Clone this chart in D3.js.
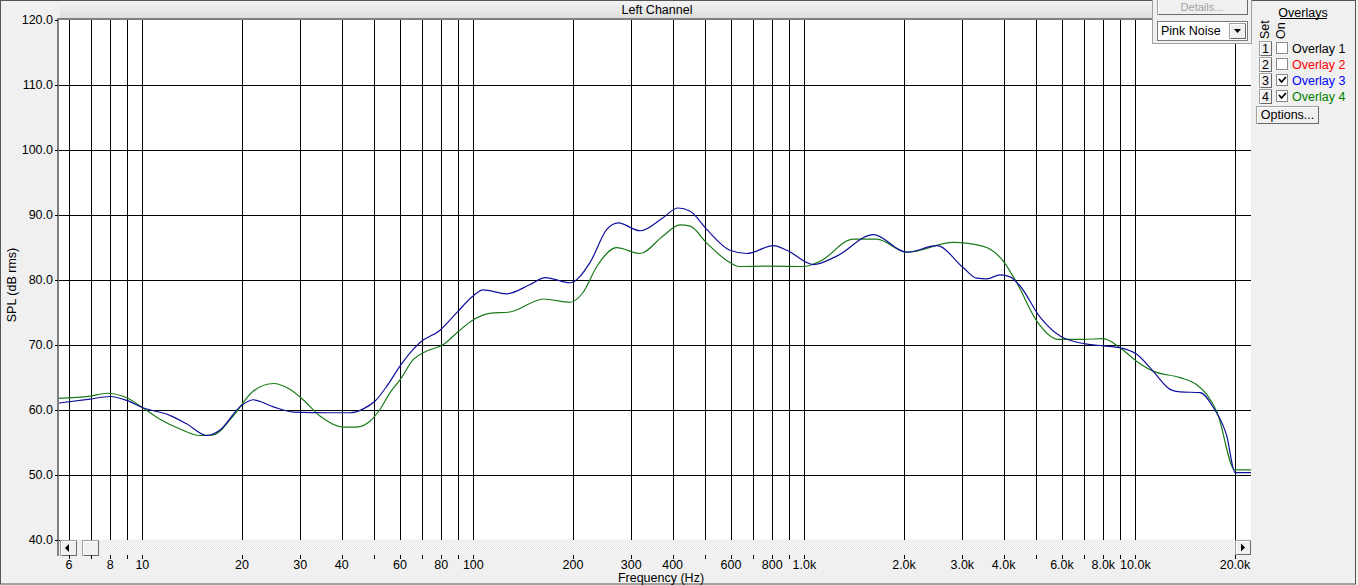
<!DOCTYPE html>
<html><head><meta charset="utf-8">
<script src="https://cdn.jsdelivr.net/npm/d3@7"></script>
<style>
html,body{margin:0;padding:0;background:#f0f0f0;}
svg{display:block;font-family:"Liberation Sans",Arial,sans-serif;}
</style></head>
<body>
<svg id="chart" width="1358" height="585"></svg>
<script>
// ---------- data ----------
const blueFreq = [5.6,6.95,7.99,8.97,10,12.1,13.6,15.65,17.2,19.7,21.6,24.9,28.6,36.9,42.4,46.5,50.5,54.8,60.1,64.4,69,79.3,89.1,100,107,126,148,165,196,225,253,274,319,374,415,452,507,596,670,806,885,1065,1253,1616,2039,2512,3023,3318,3557,3902,4182,4484,5153,5923,7047,7988,8991,10100,11310,12730,13650,15690,17200,18890,20010,22350];
const blueDb   = [61.0,61.6,62.0,61.4,60.3,59.1,57.8,56.0,56.9,60.4,61.5,60.4,59.6,59.5,59.5,60.1,61.3,63.6,66.7,68.7,70.3,72.2,74.9,77.5,78.4,77.8,79.2,80.3,79.5,82.6,87.7,88.7,87.5,89.5,91.0,90.5,87.7,84.5,84.0,85.2,84.5,82.3,83.6,86.9,84.2,85.2,81.8,80.2,80.1,80.7,80.4,79.0,74.2,71.3,70.1,69.8,69.5,68.5,65.9,63.1,62.7,62.6,60.3,55.9,50.3,50.3];
const greenFreq = [5.6,6.95,7.8,8.97,10,11.3,13.0,14.94,16.4,18.8,21.6,24.9,27.9,30.6,34.4,40.5,44.4,48.7,52.2,56,60.1,65.9,72.3,81.2,90.1,100,112,129,163,196,214.5,236,271,319,374,420,452,507,596,633,780,993,1115,1406,1655,2039,2820,3474,3993,4382,5037,5843,6950,7988,8991,10100,11310,13650,15330,16440,17620,20010,22350];
const greenDb   = [61.7,62.05,62.5,61.8,60.3,58.5,57.0,56.0,56.1,59.0,62.8,64.0,63.1,61.5,59.0,57.3,57.3,58.2,60.0,62.6,64.6,67.7,69.0,70.0,72.0,73.8,74.8,75.0,77.0,76.5,78.0,82.0,84.9,84.0,86.7,88.4,88.2,85.6,82.6,82.0,82.05,82.0,82.8,86.2,86.2,84.2,85.7,85.1,82.8,79.5,73.6,70.8,70.8,70.9,69.5,67.4,65.9,64.9,63.8,62.3,59.7,50.7,50.7];
const gridFreqs = [6,7,8,9,10,20,30,40,50,60,70,80,90,100,200,300,400,500,600,700,800,900,1000,2000,3000,4000,5000,6000,7000,8000,9000,10000,20000];
const labelFreqs = [6,8,10,20,30,40,60,80,100,200,300,400,600,800,1000,2000,3000,4000,6000,8000,10000,20000];
const labelTexts = ["6","8","10","20","30","40","60","80","100","200","300","400","600","800","1.0k","2.0k","3.0k","4.0k","6.0k","8.0k","10.0k","20.0k"];
const yTicks = [40,50,60,70,80,90,100,110,120];
const overlayNames = ["Overlay 1","Overlay 2","Overlay 3","Overlay 4"];
const overlayColors = ["#000000","#ff0000","#0000ff","#008000"];
const overlayOn = [false,false,true,true];

// ---------- layout ----------
const svg = d3.select("#chart");
const L = 59, R = 1251, T = 19.5, B = 539.5;
const x = d3.scaleLog().domain([5.6, 22350]).range([L, R]);
const y = d3.scaleLinear().domain([40, 120]).range([B, T]);
const px = v => Math.round(v) + 0.5;

// outer frame
svg.append("rect").attr("x",0.5).attr("y",0.5).attr("width",1355).attr("height",583.5)
  .attr("fill","#f0f0f0").attr("stroke","#555");

// header band
const hg = svg.append("defs").append("linearGradient").attr("id","hdr").attr("x1",0).attr("x2",0).attr("y1",0).attr("y2",1);
hg.append("stop").attr("offset","0").attr("stop-color","#f4f4f4");
hg.append("stop").attr("offset","1").attr("stop-color","#dcdcdc");
svg.append("rect").attr("x",60).attr("y",1).attr("width",1092).attr("height",18).attr("fill","url(#hdr)");
svg.append("text").attr("x",657).attr("y",14).attr("text-anchor","middle").attr("font-size",12.5).attr("fill","#000").text("Left Channel");

// plot background
svg.append("rect").attr("x",L).attr("y",T).attr("width",R-L).attr("height",B-T).attr("fill","#fff");

// grid
const grid = svg.append("g").attr("shape-rendering","crispEdges").attr("stroke","#000").attr("stroke-width",1);
grid.selectAll("line.v").data(gridFreqs).join("line")
  .attr("x1",d=>px(x(d))).attr("x2",d=>px(x(d))).attr("y1",T).attr("y2",B);
grid.selectAll("line.h").data(yTicks.filter(d=>d<120)).join("line").attr("class","h")
  .attr("x1",L).attr("x2",R).attr("y1",d=>px(y(d))).attr("y2",d=>px(y(d)));

// plot borders (sunken look)
svg.append("line").attr("x1",L-1).attr("x2",L-1).attr("y1",18).attr("y2",556).attr("stroke","#808080").attr("stroke-width",2);
svg.append("line").attr("x1",L-2).attr("x2",1152).attr("y1",19).attr("y2",19).attr("stroke","#808080").attr("stroke-width",2);

// y ticks and labels
const ya = svg.append("g");
ya.selectAll("line").data(yTicks).join("line").attr("shape-rendering","crispEdges")
  .attr("x1",55).attr("x2",58).attr("y1",d=>px(y(d))).attr("y2",d=>px(y(d))).attr("stroke","#000");
ya.selectAll("text").data(yTicks).join("text")
  .attr("x",53).attr("y",d=>y(d)+4.5).attr("text-anchor","end").attr("font-size",12.5).attr("fill","#000")
  .text(d=>d.toFixed(1));
svg.append("text").attr("transform","translate(16,285) rotate(-90)").attr("text-anchor","middle")
  .attr("font-size",12.5).attr("fill","#000").text("SPL (dB rms)");

// curves
const line = d3.line().x(d=>x(d[0])).y(d=>y(d[1])).curve(d3.curveMonotoneX);
svg.select("defs").append("clipPath").attr("id","pc").append("rect").attr("x",L).attr("y",T).attr("width",R-L).attr("height",B-T);
svg.append("path").datum(greenFreq.map((f,i)=>[f,greenDb[i]])).attr("d",line)
  .attr("fill","none").attr("stroke","#1a7a1a").attr("stroke-width",1.2).attr("clip-path","url(#pc)");
svg.append("path").datum(blueFreq.map((f,i)=>[f,blueDb[i]])).attr("d",line)
  .attr("fill","none").attr("stroke","#10109c").attr("stroke-width",1.2).attr("clip-path","url(#pc)");

// scrollbar
const pat = svg.select("defs").append("pattern").attr("id","dith").attr("width",2).attr("height",2).attr("patternUnits","userSpaceOnUse");
pat.append("rect").attr("width",2).attr("height",2).attr("fill","#fafafa");
pat.append("rect").attr("width",1).attr("height",1).attr("fill","#e6e6e6");
pat.append("rect").attr("x",1).attr("y",1).attr("width",1).attr("height",1).attr("fill","#e6e6e6");
svg.append("rect").attr("x",60).attr("y",540).attr("width",R-60).attr("height",15).attr("fill","url(#dith)");
function button(g, bx, by, bw, bh){
  g.append("rect").attr("x",bx+0.5).attr("y",by+0.5).attr("width",bw-1).attr("height",bh-1).attr("fill","#f0f0f0").attr("stroke","#a0a0a0").attr("shape-rendering","crispEdges");
  g.append("path").attr("d",`M${bx+1.5},${by+bh-1.5}V${by+1.5}H${bx+bw-1.5}`).attr("fill","none").attr("stroke","#fff").attr("shape-rendering","crispEdges");
  g.append("path").attr("d",`M${bx+1.5},${by+bh-0.5}H${bx+bw-0.5}V${by+0.5}`).attr("fill","none").attr("stroke","#696969").attr("shape-rendering","crispEdges");
}
const sb = svg.append("g");
button(sb, 60, 540, 17, 16);
sb.append("path").attr("d","M65,548 L69,544 L69,552 Z").attr("fill","#000");
button(sb, 82, 540, 17, 16);
button(sb, 1235, 540, 16, 15);
sb.append("path").attr("d","M1245,547.5 L1241,543.5 L1241,551.5 Z").attr("fill","#000");

// x ticks and labels
const xa = svg.append("g");
xa.selectAll("line").data(gridFreqs).join("line").attr("shape-rendering","crispEdges")
  .attr("x1",d=>px(x(d))).attr("x2",d=>px(x(d))).attr("y1",555).attr("y2",559).attr("stroke","#000");
xa.selectAll("text").data(labelFreqs).join("text")
  .attr("x",d=>x(d)).attr("y",569).attr("text-anchor","middle").attr("font-size",12.5).attr("fill","#000")
  .text((d,i)=>labelTexts[i]);
svg.append("text").attr("x",661).attr("y",582).attr("text-anchor","middle").attr("font-size",12.5).attr("fill","#000").text("Frequency (Hz)");

// right-top panel (Details / Pink Noise)
const rp = svg.append("g");
rp.append("rect").attr("x",1152.5).attr("y",-1).attr("width",99).attr("height",44).attr("fill","#f0f0f0").attr("stroke","#a0a0a0").attr("shape-rendering","crispEdges");
button(rp, 1157, -6, 91, 21);
rp.append("text").attr("x",1202).attr("y",11).attr("text-anchor","middle").attr("font-size",11).attr("fill","#a0a0a0").text("Details...");
rp.append("rect").attr("x",1157.5).attr("y",21.5).attr("width",90).attr("height",19).attr("fill","#fff").attr("stroke","#7a7a7a").attr("shape-rendering","crispEdges");
rp.append("text").attr("x",1161).attr("y",35).attr("font-size",12.5).attr("fill","#000").text("Pink Noise");
button(rp, 1229, 23, 17, 16);
rp.append("path").attr("d","M1234,29 L1241,29 L1237.5,33 Z").attr("fill","#000");

// overlays panel
const op = svg.append("g");
op.append("text").attr("x",1303).attr("y",17).attr("text-anchor","middle").attr("font-size",12.5).attr("fill","#000").text("Overlays");
op.append("line").attr("x1",1280).attr("x2",1327).attr("y1",18.5).attr("y2",18.5).attr("stroke","#000").attr("shape-rendering","crispEdges");
op.append("text").attr("transform","translate(1269,39) rotate(-90)").attr("font-size",12.5).attr("fill","#000").text("Set");
op.append("text").attr("transform","translate(1285,39) rotate(-90)").attr("font-size",12.5).attr("fill","#000").text("On");
overlayNames.forEach((n,i)=>{
  const cy = 48 + i*16;
  button(op, 1259, cy-7, 13, 15);
  op.append("text").attr("x",1265.5).attr("y",cy+5).attr("text-anchor","middle").attr("font-size",12.5).attr("fill","#000").text(String(i+1));
  op.append("rect").attr("x",1276.5).attr("y",cy-5.5).attr("width",11).attr("height",11).attr("fill","#fff").attr("stroke","#8a8a8a").attr("shape-rendering","crispEdges");
  if(overlayOn[i]) op.append("path").attr("d",`M1279,${cy-1} L1281.5,${cy+2} L1286,${cy-3}`).attr("fill","none").attr("stroke","#000").attr("stroke-width",1.8);
  op.append("text").attr("x",1292).attr("y",cy+4.5).attr("font-size",12.5).attr("fill",overlayColors[i]).text(n);
});
button(op, 1256, 106, 63, 18);
op.append("text").attr("x",1287.5).attr("y",119).attr("text-anchor","middle").attr("font-size",12.5).attr("fill","#000").text("Options...");
</script>
</body></html>
